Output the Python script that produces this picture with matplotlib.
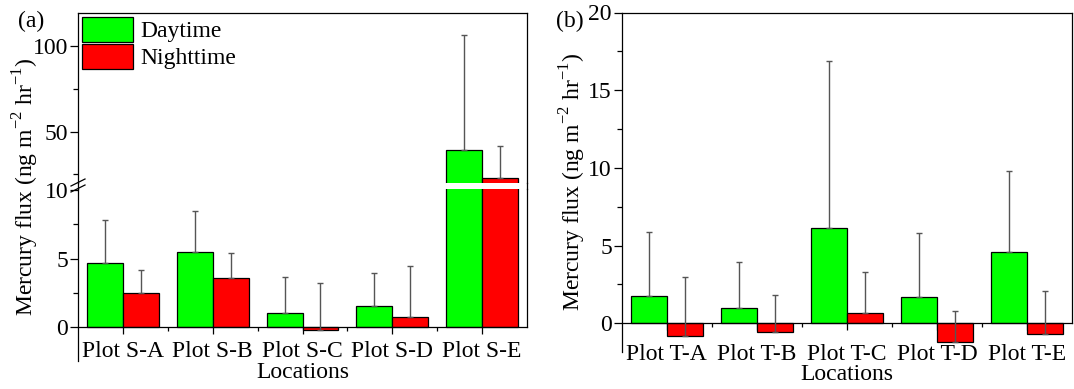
import matplotlib
matplotlib.use("Agg")
import matplotlib.pyplot as plt
import numpy as np
from matplotlib.lines import Line2D
from matplotlib.ticker import MultipleLocator, FixedLocator

plt.rcParams['font.family'] = ['Liberation Serif', 'DejaVu Serif']
plt.rcParams['mathtext.fontset'] = 'custom'
plt.rcParams['mathtext.rm'] = 'Liberation Serif'

# ---------------- data ----------------
sites_s = ['Plot S-A', 'Plot S-B', 'Plot S-C', 'Plot S-D', 'Plot S-E']
day_s = [4.68, 5.49, 1.05, 1.52, 39.3]
night_s = [2.48, 3.58, -0.22, 0.74, 23.0]
day_s_err = [3.14, 3.01, 2.63, 2.43, 67.3]
night_s_err = [1.71, 1.81, 3.42, 3.69, 18.8]

sites_t = ['Plot T-A', 'Plot T-B', 'Plot T-C', 'Plot T-D', 'Plot T-E']
day_t = [1.76, 0.98, 6.14, 1.67, 4.57]
night_t = [-0.80, -0.56, 0.68, -1.22, -0.69]
day_t_err = [4.10, 2.99, 10.71, 4.13, 5.24]
night_t_err = [3.80, 2.36, 2.64, 2.03, 2.79]

legend_labels = ['Daytime', 'Nighttime']
ylabel = 'Mercury flux (ng m$^{-2}$ hr$^{-1}$)'
xlabel = 'Locations'

GREEN = '#00FF00'
RED = '#FF0000'
ECOL = '#555555'
FS = 17

W, H = 1074, 389
fig = plt.figure(figsize=(W / 100, H / 100), dpi=100)


def fx(px):
    return px / W


def fy(py):
    return 1 - py / H


def rect(x0, y0, x1, y1):
    return [fx(x0), fy(y1), fx(x1) - fx(x0), fy(y0) - fy(y1)]


bw = 0.4


def draw_bars(ax, day, night, derr, nerr):
    x = np.arange(1, len(day) + 1)
    b1 = ax.bar(x - bw / 2, day, bw, color=GREEN, edgecolor='black', linewidth=0.9, zorder=2)
    b2 = ax.bar(x + bw / 2, night, bw, color=RED, edgecolor='black', linewidth=0.9, zorder=2)
    ax.errorbar(x - bw / 2, day, yerr=[np.zeros(len(day)), derr], fmt='none',
                ecolor=ECOL, elinewidth=1.0, capsize=2.5, capthick=1.0, zorder=3)
    ax.errorbar(x + bw / 2, night, yerr=[np.zeros(len(night)), nerr], fmt='none',
                ecolor=ECOL, elinewidth=1.0, capsize=2.5, capthick=1.0, zorder=3)
    ax.set_xlim(0.5, len(day) + 0.5)
    return b1, b2


def style_y(ax):
    ax.tick_params(axis='y', which='major', direction='out', length=5.5, width=0.9,
                   labelsize=FS, pad=1.5)
    ax.tick_params(axis='y', which='minor', direction='out', length=3.5, width=0.9)
    ax.tick_params(axis='y', right=False, which='both')


def style_x_bottom(ax, labels, pad):
    n = len(labels)
    ax.spines['bottom'].set_position(('data', 0))
    ax.set_xticks(np.arange(1, n + 1))
    ax.set_xticklabels(labels)
    ax.xaxis.set_minor_locator(FixedLocator(np.arange(1.5, n, 1.0)))
    ax.tick_params(axis='x', which='major', direction='out', length=5, width=0.9,
                   labelsize=FS, pad=pad)
    ax.tick_params(axis='x', which='minor', direction='out', length=3, width=0.9)
    ax.tick_params(axis='x', top=False, which='both')


# ---------------- panel (a): broken axis ----------------
LX0, LX1 = 78, 527
ax_up = fig.add_axes(rect(LX0, 13, LX1, 183))
ax_lo = fig.add_axes(rect(LX0, 189, LX1, 361))

h1, h2 = draw_bars(ax_up, day_s, night_s, day_s_err, night_s_err)
draw_bars(ax_lo, day_s, night_s, day_s_err, night_s_err)

ax_up.set_ylim(20, 119.3)
ax_up.yaxis.set_major_locator(FixedLocator([50, 100]))
ax_up.yaxis.set_minor_locator(FixedLocator([25, 75]))
ax_up.spines['bottom'].set_visible(False)
ax_up.tick_params(axis='x', which='both', bottom=False, top=False, labelbottom=False)
style_y(ax_up)

ax_lo.set_ylim(-2.5, 10.1)
ax_lo.yaxis.set_major_locator(FixedLocator([0, 5, 10]))
ax_lo.yaxis.set_minor_locator(FixedLocator([2.5, 7.5]))
ax_lo.spines['top'].set_visible(False)
ax_lo.spines['right'].set_bounds(0, 10.1)
style_y(ax_lo)
style_x_bottom(ax_lo, sites_s, 5.5)

for ax in (ax_up, ax_lo):
    for s in ax.spines.values():
        s.set_linewidth(0.9)

# right spine continuity across the gap and break marks on the left spine
fig.add_artist(Line2D([fx(LX1), fx(LX1)], [fy(183), fy(189)], color='black', lw=0.9))
fig.add_artist(Line2D([fx(LX0), fx(LX0)], [fy(183), fy(189)], color='black', lw=0.9))
for yc in (182.5, 188.5):
    fig.add_artist(Line2D([fx(LX0 - 7), fx(LX0 + 7)], [fy(yc + 3.5), fy(yc - 3.5)],
                          color='black', lw=0.9))

leg = ax_up.legend([h1, h2], legend_labels, loc='upper left', frameon=False, fontsize=FS,
                   handlelength=2.2, handleheight=1.25, handletextpad=0.28,
                   labelspacing=0.08, borderpad=0.1, borderaxespad=0.05)

fig.text(fx(26), fy(187), ylabel, rotation=90, ha='center', va='center', fontsize=FS)
fig.text(fx((LX0 + LX1) / 2), fy(373), xlabel, ha='center', va='center', fontsize=FS)
fig.text(fx(31), fy(21), '(a)', ha='center', va='center', fontsize=FS)

# ---------------- panel (b) ----------------
RX0, RX1 = 621.7, 1072
ax_r = fig.add_axes(rect(RX0, 12.5, RX1, 352))
draw_bars(ax_r, day_t, night_t, day_t_err, night_t_err)
ax_r.set_ylim(-1.85, 20)
ax_r.yaxis.set_major_locator(MultipleLocator(5))
ax_r.yaxis.set_minor_locator(MultipleLocator(2.5))
ax_r.spines['right'].set_bounds(0, 20)
style_y(ax_r)
style_x_bottom(ax_r, sites_t, 10)
for s in ax_r.spines.values():
    s.set_linewidth(0.9)

fig.text(fx(573), fy(182), ylabel, rotation=90, ha='center', va='center', fontsize=FS)
fig.text(fx((RX0 + RX1) / 2), fy(375), xlabel, ha='center', va='center', fontsize=FS)
fig.text(fx(570), fy(21), '(b)', ha='center', va='center', fontsize=FS)

fig.savefig('out.png', dpi=100)
